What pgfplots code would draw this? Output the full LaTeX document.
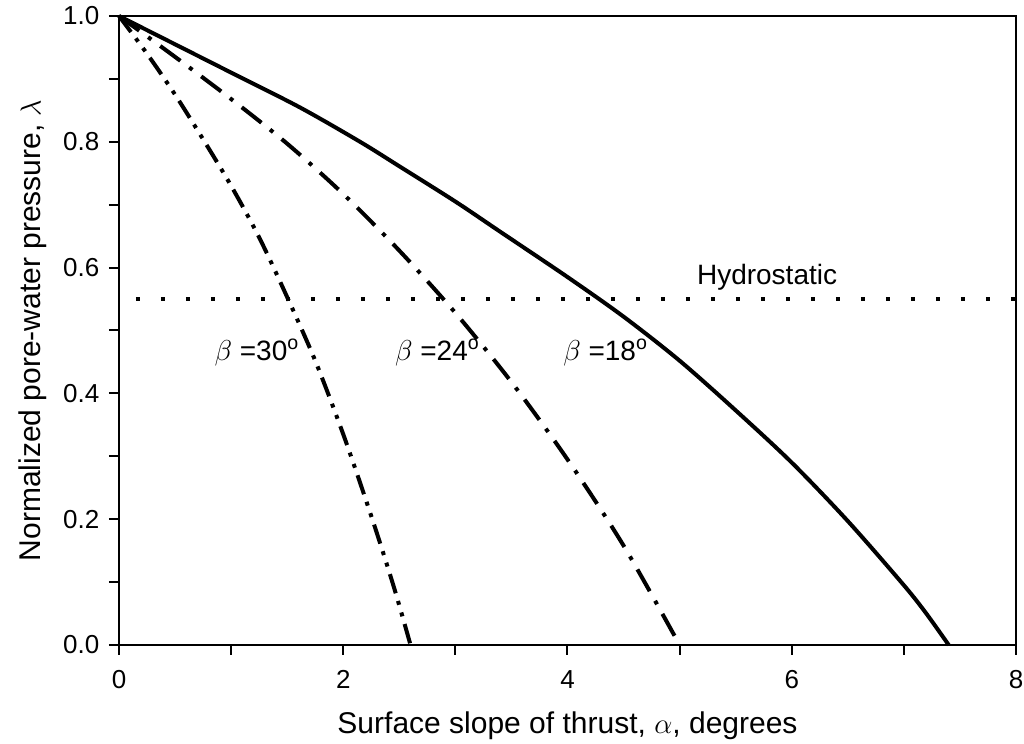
\documentclass[border=0pt]{standalone}
\usepackage{fontspec}
\setmainfont{Liberation Sans}
\usepackage{pgfplots}
\pgfplotsset{compat=1.18}
\begin{document}
\fontsize{14}{16}\selectfont
\begin{tikzpicture}
\begin{axis}[
  name=ax,
  width=448.5pt, height=314.5pt, scale only axis,
  xmin=0, xmax=8, ymin=0, ymax=1,
  xtick={0,2,4,6,8}, ytick={0,0.2,0.4,0.6,0.8,1.0},
  minor xtick={1,3,5,7}, minor ytick={0.1,0.3,0.5,0.7,0.9},
  tick align=outside, xtick pos=bottom, ytick pos=left,
  major tick length=5pt, minor tick length=5pt,
  axis line style={line width=1pt},
  every tick/.style={line width=1pt, black},
  /pgf/number format/assume math mode=true,
  tick label style={font=\fontsize{13}{15}\selectfont},
  yticklabel style={/pgf/number format/fixed, /pgf/number format/fixed zerofill, /pgf/number format/precision=1},
  xticklabel style={/pgf/number format/fixed, yshift=-3pt},
  xlabel={Surface slope of thrust, $\alpha$, degrees},
  ylabel={Normalized pore-water pressure, $\lambda$},
  label style={font=\fontsize{15}{17}\selectfont},
  xlabel style={at={(axis description cs:0.5,-0.1288)}, anchor=center},
  ylabel style={at={(axis description cs:-0.0959,0.5)}, anchor=center},
  clip=false,
]
% beta = 18 (solid)
\addplot[black, line width=2pt, smooth] coordinates {
(0,1.0) (0.5,0.955) (1,0.910) (1.61,0.855) (2.15,0.800) (2.51,0.760) (3.0,0.705)
(3.4,0.657) (4.0,0.585) (4.5,0.522) (5.0,0.452) (5.5,0.373) (6.0,0.290)
(6.5,0.197) (7.0,0.095) (7.2,0.050) (7.4,0.0)};
% beta = 24 (dash-dot)
\addplot[black, line width=2pt, smooth, dash pattern=on 12.5pt off 5.5pt on 2pt off 5.5pt] coordinates {
(0,1.0) (0.5,0.935) (1,0.868) (1.5,0.797) (2,0.717) (2.5,0.627) (3,0.528)
(3.5,0.418) (4,0.295) (4.5,0.158) (5,0.0)};
% beta = 30 (dash-dot-dot)
\addplot[black, line width=2pt, smooth, dash pattern=on 10pt off 4pt on 2pt off 4pt on 2pt off 4pt] coordinates {
(0,1.0) (0.25,0.940) (0.5,0.875) (0.75,0.804) (1,0.730) (1.25,0.648) (1.5,0.553)
(1.75,0.452) (2,0.335) (2.25,0.205) (2.45,0.093) (2.6,0.0)};
% hydrostatic
\addplot[black, line width=2pt, dash pattern=on 2pt off 10.5pt] coordinates {(0.15,0.55) (8,0.55)};
\node at (axis cs:5.78,0.585) {Hydrostatic};
\node at (axis cs:1.23,0.465) {$\beta$ =30\textsuperscript{o}};
\node at (axis cs:2.84,0.465) {$\beta$ =24\textsuperscript{o}};
\node at (axis cs:4.34,0.465) {$\beta$ =18\textsuperscript{o}};
\end{axis}
\pgfresetboundingbox
\path[use as bounding box] ([shift={(-59.5pt,-49.5pt)}]ax.south west) rectangle ([shift={(4pt,8pt)}]ax.north east);
\end{tikzpicture}
\end{document}
